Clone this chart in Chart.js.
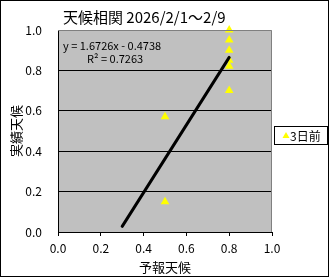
<!DOCTYPE html>
<html><head><meta charset="utf-8">
<script src="https://cdn.jsdelivr.net/npm/chart.js@4/dist/chart.umd.min.js"></script>
<style>html,body{margin:0;padding:0;background:#fff}#wrap{width:330px;height:278px}</style>
</head><body><div id="wrap"><canvas id="c" width="330" height="278"></canvas></div>
<script>
const chartTitle = '天候相関 2026/2/1～2/9';
const seriesName = '3日前';
const forecast = [0.5, 0.5, 0.8, 0.8, 0.8, 0.8, 0.8, 0.8];
const actual   = [0.57, 0.15, 1.0, 0.95, 0.9, 0.85, 0.82, 0.7];
const trendSlope = 1.6726;
const trendIntercept = -0.4738;
const trendRange = [0.3, 0.8];
const rSquared = 0.7263;
const tickValues = [0, 0.2, 0.4, 0.6, 0.8, 1.0];
const xTitle = '予報天候';
const yTitle = '実績天候';

const FONT = '"Noto Sans CJK JP", "DejaVu Sans", sans-serif';
const points = forecast.map((x, i) => ({x, y: actual[i]}));
const trend = trendRange.map(x => ({x, y: trendSlope * x + trendIntercept}));

const deco = {
  id: 'deco',
  beforeDraw(chart) {
    const {ctx, chartArea: a} = chart;
    ctx.save();
    ctx.fillStyle = '#c0c0c0';
    ctx.fillRect(a.left, a.top, a.right - a.left, a.bottom - a.top);
    ctx.restore();
  },
  afterDraw(chart) {
    const {ctx, chartArea: a} = chart;
    ctx.save();
    ctx.strokeStyle = '#808080';
    ctx.lineWidth = 1;
    ctx.beginPath();
    ctx.moveTo(a.left, a.top + 0.5);
    ctx.lineTo(a.right - 0.5, a.top + 0.5);
    ctx.lineTo(a.right - 0.5, a.bottom);
    ctx.stroke();
    ctx.fillStyle = '#000';
    ctx.font = '11px ' + FONT;
    ctx.textBaseline = 'middle';
    ctx.textAlign = 'left';
    const sign = trendIntercept < 0 ? ' - ' : ' + ';
    ctx.fillText('y = ' + trendSlope + 'x' + sign + Math.abs(trendIntercept), 63, 46);
    ctx.fillText('R² = ' + rSquared, 87, 59);
    ctx.font = '15px ' + FONT;
    ctx.fillText(chartTitle, 63, 17);
    ctx.fillStyle = '#fff';
    ctx.fillRect(274, 126, 53, 18);
    ctx.strokeStyle = '#000';
    ctx.strokeRect(274.5, 126.5, 53, 18);
    ctx.fillStyle = '#ffff00';
    ctx.beginPath();
    ctx.moveTo(286, 132);
    ctx.lineTo(289.5, 138);
    ctx.lineTo(282.5, 138);
    ctx.closePath();
    ctx.fill();
    ctx.fillStyle = '#000';
    ctx.font = '12px ' + FONT;
    ctx.fillText(seriesName, 290, 136);
    ctx.strokeStyle = '#000';
    ctx.strokeRect(0.5, 0.5, 328, 276);
    ctx.restore();
  }
};

new Chart(document.getElementById('c'), {
  type: 'scatter',
  data: {
    datasets: [
      {
        type: 'line', label: 'trend', data: trend,
        borderColor: '#000', borderWidth: 3, pointRadius: 0, fill: false,
        borderCapStyle: 'round'
      },
      {
        label: seriesName, data: points, clip: false,
        pointStyle: 'triangle', pointRadius: 5, borderWidth: 0,
        backgroundColor: '#ffff00', borderColor: '#ffff00'
      }
    ]
  },
  options: {
    responsive: false, animation: false, devicePixelRatio: 1,
    layout: {padding: {left: 0, top: 30, right: 58, bottom: 0}},
    plugins: {legend: {display: false}, tooltip: {enabled: false}, title: {display: false}},
    scales: {
      x: {
        type: 'linear', min: 0, max: 1,
        afterBuildTicks: s => { s.ticks = tickValues.map(v => ({value: v})); },
        afterFit: s => { s.height = 46; },
        ticks: {color: '#000', font: {family: FONT, size: 12}, padding: 5,
                callback: v => v.toFixed(1), maxRotation: 0, autoSkip: false},
        grid: {drawOnChartArea: false, drawTicks: true, tickLength: 4, color: '#000'},
        border: {color: '#000', width: 1},
        title: {display: true, text: xTitle, color: '#000', font: {family: FONT, size: 13}, padding: {top: 0, bottom: 3}}
      },
      y: {
        type: 'linear', min: 0, max: 1,
        afterBuildTicks: s => { s.ticks = tickValues.map(v => ({value: v})); },
        afterFit: s => { s.width = 58; },
        ticks: {color: '#000', font: {family: FONT, size: 12}, padding: 16,
                callback: v => v.toFixed(1)},
        grid: {drawTicks: false, color: c => (c.tick && c.tick.value >= 1) ? 'rgba(0,0,0,0)' : '#000'},
        border: {color: '#000', width: 1},
        title: {display: true, text: yTitle, color: '#000', font: {family: FONT, size: 13}, padding: {top: 8, bottom: 0}}
      }
    }
  },
  plugins: [deco]
});
</script></body></html>
